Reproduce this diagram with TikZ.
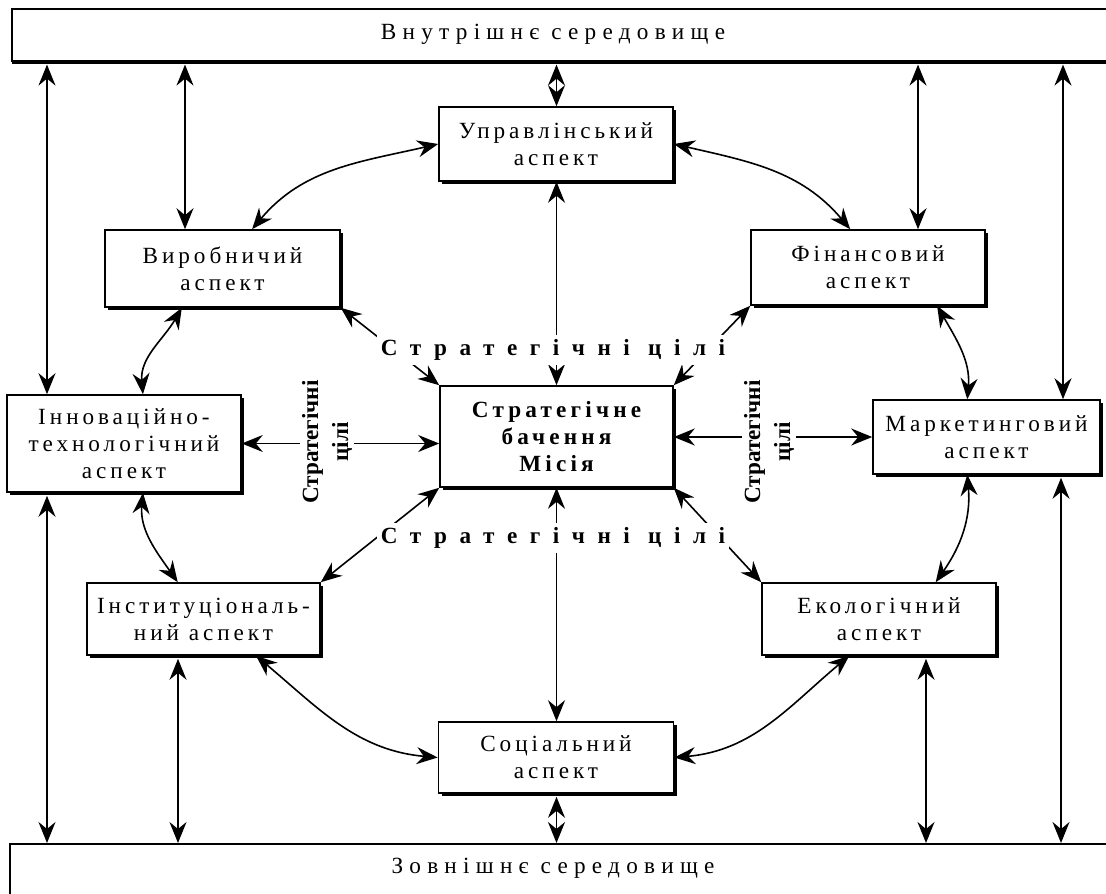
\documentclass[tikz,border=0pt]{standalone}
\usepackage{fontspec}
\setmainfont{Liberation Serif}
\usetikzlibrary{arrows.meta,shadows,calc}
\begin{document}
\begin{tikzpicture}[x=0.5pt,y=0.5pt,
  box/.style={draw, line width=0.8pt, fill=white, align=center, inner sep=0pt,
     font=\fontsize{11.6}{13.5}\selectfont\addfontfeatures{LetterSpace=17},
     drop shadow={shadow xshift=1.5pt, shadow yshift=-1.5pt, opacity=1, fill=black}},
  bar/.style={draw, line width=0.8pt, fill=white, inner sep=0pt},
  bartext/.style={inner sep=0pt, font=\fontsize{11.6}{13.5}\selectfont\addfontfeatures{LetterSpace=27}},
  dbl/.style={{Stealth[length=10.5pt,width=8.5pt,inset=3.5pt]}-{Stealth[length=10.5pt,width=8.5pt,inset=3.5pt]}, line width=0.8pt},
  goal/.style={font=\fontsize{11.6}{13.5}\selectfont\bfseries\addfontfeatures{LetterSpace=54}, fill=white, inner sep=2pt},
  vgoal/.style={rotate=90, align=center, font=\fontsize{11.6}{15}\selectfont\bfseries, fill=white, inner sep=1pt}]
\useasboundingbox (0,0) rectangle (1106,-893);
\clip (0,0) rectangle (1106,-893);
\fill[white] (0,0) rectangle (1106,-893);

% bars
\node[bar, drop shadow={shadow xshift=0pt, shadow yshift=-1.5pt, opacity=1, fill=black},
      minimum width=580pt, minimum height=26pt, anchor=north west] (top) at (11,-8) {};
\node[bartext] (toptext) at (553,-34) {Внутрішнє середовище};
\node[bar, minimum width=580pt, minimum height=60pt, anchor=north west] (bot) at (9,-843) {};
\node[bartext] (bottext) at (553,-868) {Зовнішнє середовище};

% boxes
\node[box, minimum width=117pt, minimum height=37pt] (upr) at (556,-144) {Управлінський\\аспект};
\node[box, minimum width=117.5pt, minimum height=38.5pt] (vyr) at (222.5,-268.5) {Виробничий\\аспект};
\node[box, minimum width=117pt, minimum height=37.5pt] (fin) at (868,-267.5) {Фінансовий\\аспект};
\node[box, minimum width=117pt, minimum height=48.5pt] (inn) at (124,-443.5) {Інноваційно-\\технологічний\\аспект};
\node[box, minimum width=116.5pt, minimum height=50.5pt,
      font=\fontsize{11.6}{13.5}\selectfont\bfseries\addfontfeatures{LetterSpace=18}] (cen) at (556.5,-436.5) {Стратегічне\\бачення\\Місія};
\node[box, minimum width=113.5pt, minimum height=37pt] (mar) at (986.5,-437) {Маркетинговий\\аспект};
\node[box, minimum width=116.5pt, minimum height=36pt] (inst) at (203.5,-619) {Інституціональ-\\ний аспект};
\node[box, minimum width=117pt, minimum height=36pt] (eko) at (879,-619) {Екологічний\\аспект};
\node[box, minimum width=117.5pt, minimum height=35.5pt] (soc) at (556,-757.5) {Соціальний\\аспект};

% x positions of vertical arrows
\coordinate (xa) at (47,0);
\coordinate (xb) at (185,0);
\coordinate (xd) at (918,0);
\coordinate (xe) at (1063,0);
\coordinate (xf) at (178,0);
\coordinate (xg) at (926,0);
\coordinate (xh) at (1061,0);

% to/from the internal environment
\draw[dbl, shorten <=1.5pt] (top.south -| xa) -- (inn.north -| xa);
\draw[dbl, shorten <=1.5pt] (top.south -| xb) -- (vyr.north -| xb);
\draw[dbl, shorten <=1.5pt] (top.south -| cen.north) -- (upr.north -| cen.north);
\draw[dbl, shorten <=1.5pt] (top.south -| xd) -- (fin.north -| xd);
\draw[dbl, shorten <=1.5pt] (top.south -| xe) -- (mar.north -| xe);
% to/from the external environment
\draw[dbl, shorten <=1.5pt] (inn.south -| xa) -- (bot.north -| xa);
\draw[dbl, shorten <=1.5pt] (inst.south -| xf) -- (bot.north -| xf);
\draw[dbl, shorten <=1.5pt] (soc.south -| cen.south) -- (bot.north -| cen.south);
\draw[dbl, shorten <=1.5pt] (eko.south -| xg) -- (bot.north -| xg);
\draw[dbl, shorten <=1.5pt] (mar.south -| xh) -- (bot.north -| xh);

% ring
\draw[dbl] (vyr.53) to[out=50, in=193] (upr.west);
\draw[dbl] (upr.east) to[out=-13, in=130] (fin.115);
\draw[dbl] (vyr.224) to[out=240, in=95] (inn.69);
\draw[dbl] (fin.331) to[out=-60, in=85] (mar.117);
\draw[dbl] (inn.291) to[out=265, in=125] (inst.125);
\draw[dbl] (mar.243) to[out=275, in=55] (eko.33);
\draw[dbl] (inst.325) to[out=-40, in=175] (soc.west);
\draw[dbl] (eko.231) to[out=220, in=5] (soc.east);

% from the centre
\draw[dbl] (cen.north) -- (cen.north |- upr.south);
\draw[dbl] (cen.south) -- (cen.south |- soc.north);
\draw[dbl] (cen.north west) -- (vyr.south east);
\draw[dbl] (cen.north east) -- (fin.south west);
\draw[dbl] (cen.south west) -- (inst.north east);
\draw[dbl] (cen.south east) -- (eko.north west);
\draw[dbl] (inn.east -| cen.west) -- (inn.east);
\draw[dbl] (mar.west -| cen.east) -- (mar.west);

% labels
\node[goal] (g1) at (553,-350) {Стратегічні цілі};
\node[goal] (g2) at (553,-538) {Стратегічні цілі};
\node[vgoal] (g3) at (327,-442) {Стратегічні\\цілі};
\node[vgoal] (g4) at (769,-442) {Стратегічні\\цілі};
\end{tikzpicture}
\end{document}
